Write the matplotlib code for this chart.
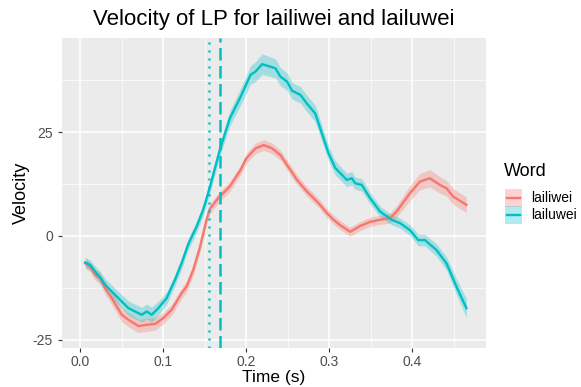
import matplotlib
matplotlib.use("Agg")
import matplotlib.pyplot as plt
import numpy as np
from matplotlib.patches import Rectangle
from matplotlib.lines import Line2D

title = "Velocity of LP for lailiwei and lailuwei"
words = ["lailiwei", "lailuwei"]
colors = ["#F8766D", "#00BFC4"]

t_laili = [0.006, 0.012, 0.018, 0.024, 0.030, 0.038, 0.050, 0.058, 0.070, 0.080,
           0.090, 0.100, 0.110, 0.122, 0.128, 0.136, 0.144, 0.152, 0.156, 0.166,
           0.180, 0.193, 0.200, 0.211, 0.221, 0.231, 0.241, 0.249, 0.261, 0.273,
           0.287, 0.297, 0.305, 0.313, 0.325, 0.337, 0.349, 0.361, 0.373, 0.381,
           0.397, 0.409, 0.421, 0.433, 0.441, 0.449, 0.465]
v_laili = [-6.6, -7.5, -9.4, -10.2, -12.6, -15.0, -19.0, -20.2, -21.7, -21.4,
           -21.2, -19.8, -17.8, -13.8, -12.2, -8.2, -2.8, 3.9, 6.5, 9.1,
           11.9, 15.9, 18.7, 21.1, 21.9, 21.1, 19.5, 17.1, 13.5, 10.7,
           7.9, 5.5, 3.9, 2.6, 1.0, 2.4, 3.4, 3.9, 4.3, 5.9,
           10.3, 13.1, 13.9, 12.3, 11.5, 9.5, 7.5]
se_laili = [1.2, 1.2, 1.3, 1.4, 1.5, 1.6, 1.7, 1.7, 1.6, 1.6,
            1.5, 1.4, 1.3, 1.3, 1.3, 1.3, 1.3, 1.3, 1.2, 1.2,
            1.2, 1.2, 1.2, 1.3, 1.3, 1.3, 1.2, 1.2, 1.2, 1.2,
            1.1, 1.1, 1.1, 1.1, 1.1, 1.1, 1.1, 1.1, 1.2, 1.4,
            1.8, 2.0, 2.1, 2.0, 1.9, 1.9, 1.9]

t_lailu = [0.006, 0.012, 0.018, 0.024, 0.030, 0.046, 0.058, 0.074, 0.080, 0.086,
           0.094, 0.104, 0.114, 0.122, 0.130, 0.140, 0.148, 0.156, 0.168, 0.180,
           0.193, 0.205, 0.211, 0.219, 0.235, 0.241, 0.249, 0.255, 0.265, 0.273,
           0.283, 0.291, 0.299, 0.307, 0.321, 0.327, 0.331, 0.339, 0.349, 0.361,
           0.375, 0.385, 0.397, 0.407, 0.415, 0.429, 0.441, 0.453, 0.465]
v_lailu = [-6.4, -7.0, -8.6, -10.0, -11.8, -15.0, -17.4, -19.0, -18.2, -19.0,
           -17.4, -15.0, -10.6, -6.6, -2.0, 2.2, 6.3, 11.7, 20.7, 28.3,
           33.5, 38.8, 39.6, 41.4, 40.4, 38.4, 37.2, 35.0, 34.0, 31.9,
           29.5, 24.7, 19.9, 16.4, 13.5, 13.9, 12.7, 12.3, 9.1, 5.9,
           3.9, 3.1, 1.4, -1.0, -1.0, -3.4, -6.6, -12.2, -17.4]
se_lailu = [1.2, 1.2, 1.3, 1.4, 1.5, 1.6, 1.7, 1.8, 1.8, 1.8,
            1.7, 1.5, 1.4, 1.4, 1.4, 1.4, 1.4, 1.5, 1.6, 1.8,
            2.0, 2.2, 2.4, 2.5, 2.3, 2.2, 2.1, 2.0, 2.0, 2.0,
            2.0, 1.9, 1.8, 1.7, 1.6, 1.6, 1.5, 1.5, 1.4, 1.3,
            1.2, 1.2, 1.3, 1.4, 1.4, 1.5, 1.6, 1.9, 2.3]

vline_dotted = 0.1545
vline_dashed = 0.1685

x_ticks = [0.0, 0.1, 0.2, 0.3, 0.4]
x_ticklabels = ["0.0", "0.1", "0.2", "0.3", "0.4"]
y_ticks = [-25, 0, 25]
y_ticklabels = ["-25", "0", "25"]

plt.rcParams['font.family'] = ['Liberation Sans', 'DejaVu Sans']

W, H = 581, 387
fig = plt.figure(figsize=(W / 100, H / 100), dpi=100)
ax = fig.add_axes([62 / W, 1 - 348 / H, (486 - 62) / W, (348 - 38) / H])
ax.set_facecolor("#EBEBEB")

series = [(t_laili, v_laili, se_laili), (t_lailu, v_lailu, se_lailu)]
for (t, v, se), c in zip(series, colors):
    t = np.array(t); v = np.array(v); se = np.array(se)
    ax.fill_between(t, v - se, v + se, color=c, alpha=0.3, linewidth=0, zorder=2)
    ax.plot(t, v, color=c, linewidth=1.7, zorder=3)

ax.axvline(vline_dotted, color="#00BFC4", linewidth=1.8, linestyle=(0, (0.8, 2.4)), zorder=4)
ax.axvline(vline_dashed, color="#00BFC4", linewidth=1.8, linestyle=(0, (5, 2.2)), zorder=4)

ax.set_xlim(-0.022, 0.4886)
ax.set_ylim(-27.0, 47.7)

ax.set_xticks(x_ticks)
ax.set_xticklabels(x_ticklabels)
ax.set_yticks(y_ticks)
ax.set_yticklabels(y_ticklabels)
ax.set_xticks([0.05, 0.15, 0.25, 0.35, 0.45], minor=True)
ax.set_yticks([-12.5, 12.5, 37.5], minor=True)

ax.grid(which="major", color="white", linewidth=1.1, zorder=0)
ax.grid(which="minor", color="white", linewidth=0.5, zorder=0)
ax.set_axisbelow(True)
for s in ax.spines.values():
    s.set_visible(False)
ax.tick_params(which="major", length=3, color="#333333", labelcolor="#4D4D4D", labelsize=10, width=0.8)
ax.tick_params(axis="x", which="major", pad=2)
ax.tick_params(which="minor", length=0)

ax.set_xlabel("Time (s)", fontsize=12.5)
ax.xaxis.set_label_coords(0.5, -(382 - 348) / (348 - 38), transform=ax.transAxes)
ax.xaxis.label.set_va("baseline")
ax.set_ylabel("Velocity", fontsize=13)
ax.yaxis.set_label_coords(-(62 - 21) / (486 - 62), 0.5, transform=ax.transAxes)
ax.yaxis.label.set_va("center")
fig.text((62 + 486) / 2 / W, 1 - 20 / H, title, fontsize=16, ha="center", va="center")

# legend (drawn manually to match ggplot layout)
fig.text(504 / W, 1 - 172 / H, "Word", fontsize=13, ha="left", va="center")
key_tops = [189, 206.5]
for top, c, w in zip(key_tops, colors, words):
    box = Rectangle((505 / W, 1 - (top + 17.5) / H), 17 / W, 17.5 / H,
                    transform=fig.transFigure, facecolor=c, alpha=0.3, edgecolor="none")
    fig.add_artist(box)
    yc = 1 - (top + 8.75) / H
    fig.add_artist(Line2D([507 / W, 520 / W], [yc, yc], transform=fig.transFigure,
                          color=c, linewidth=1.7))
    fig.text(531.5 / W, yc, w, fontsize=10, ha="left", va="center")

fig.savefig("out.png", dpi=100)
